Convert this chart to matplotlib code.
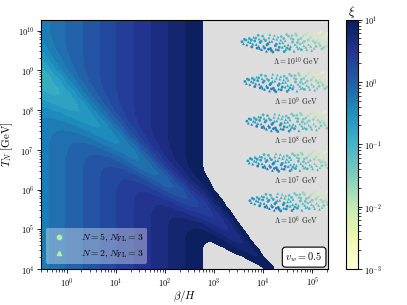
import matplotlib
matplotlib.use('Agg')
import matplotlib.pyplot as plt
import numpy as np
from matplotlib.colors import LogNorm
from matplotlib.lines import Line2D
from matplotlib.ticker import FixedLocator, FuncFormatter, LogLocator, NullFormatter

plt.rcParams['mathtext.fontset'] = 'cm'
plt.rcParams['font.family'] = 'serif'

# xi field on a grid that follows the diagonal ridge:
# column p = log10(beta/H), row q with log10(T_N) = q - p + 8.25
log_beta = np.arange(-0.75, 5.51, 0.25)
ridge_q_inner = np.arange(-1.5, 1.5001, 0.125)
ridge_q = np.concatenate([[-5.0, -3.0, -2.0], ridge_q_inner, [2.0, 3.0, 5.0, 8.0]])

# log10 xi away from the ridge (vertical bands)
log_xi_background = [-0.393, -0.294, -0.194, -0.095, 0.004, 0.104, 0.203,
                     0.302, 0.401, 0.501, 0.600, 0.699, 0.798, 0.898,
                     0.997, 1.096, 1.195, 1.295, 1.394, 1.493, 1.592,
                     1.692, 1.791, 1.890, 1.990, 2.090]

# drop of log10 xi inside the ridge, in 0.01 units (one row per log_beta node)
ridge_dip_centi = [
    [1, 2, 3, 5, 9, 13, 20, 27, 36, 44, 52, 57, 60, 59, 55, 48, 40, 31, 23, 16, 11, 7, 4, 2, 1],
    [1, 1, 3, 5, 8, 13, 19, 27, 36, 45, 54, 59, 62, 61, 56, 49, 40, 31, 23, 15, 10, 6, 3, 2, 1],
    [0, 1, 2, 4, 7, 12, 18, 27, 36, 46, 55, 61, 64, 63, 57, 49, 40, 30, 21, 14, 9, 5, 3, 1, 1],
    [0, 1, 2, 3, 6, 11, 17, 26, 36, 46, 56, 63, 66, 64, 58, 49, 39, 28, 19, 12, 7, 4, 2, 1, 0],
    [0, 1, 1, 3, 5, 9, 16, 24, 35, 46, 57, 64, 67, 65, 59, 49, 37, 26, 17, 10, 6, 3, 1, 1, 0],
    [0, 0, 1, 2, 4, 8, 14, 23, 34, 46, 57, 66, 69, 66, 59, 48, 35, 24, 15, 9, 4, 2, 1, 0, 0],
    [0, 0, 1, 1, 3, 7, 13, 21, 33, 46, 58, 67, 70, 67, 59, 47, 34, 22, 13, 7, 4, 2, 1, 0, 0],
    [0, 0, 0, 1, 3, 6, 11, 20, 32, 45, 59, 68, 72, 68, 59, 45, 32, 20, 11, 6, 3, 1, 0, 0, 0],
    [0, 0, 0, 1, 2, 5, 10, 19, 31, 45, 60, 70, 73, 69, 58, 44, 29, 18, 10, 5, 2, 1, 0, 0, 0],
    [0, 0, 0, 1, 2, 4, 9, 18, 30, 46, 61, 72, 75, 70, 57, 42, 27, 16, 8, 4, 1, 1, 0, 0, 0],
    [0, 0, 0, 1, 2, 4, 9, 17, 30, 45, 61, 72, 75, 69, 56, 40, 25, 14, 7, 3, 1, 0, 0, 0, 0],
    [0, 0, 0, 0, 1, 3, 8, 16, 29, 45, 62, 73, 76, 68, 54, 37, 22, 12, 5, 2, 1, 0, 0, 0, 0],
    [0, 0, 0, 0, 1, 3, 6, 14, 26, 41, 58, 70, 74, 68, 54, 37, 22, 12, 5, 2, 1, 0, 0, 0, 0],
    [0, 0, 0, 0, 1, 2, 5, 11, 22, 37, 54, 67, 72, 67, 54, 37, 22, 11, 5, 2, 1, 0, 0, 0, 0],
    [0, 0, 0, 0, 0, 1, 3, 7, 15, 27, 42, 56, 66, 67, 60, 46, 31, 18, 9, 4, 1, 0, 0, 0, 0],
    [0, 0, 0, 0, 0, 1, 4, 8, 16, 28, 42, 55, 64, 64, 56, 43, 29, 17, 9, 4, 2, 1, 0, 0, 0],
    [0, 0, 0, 0, 1, 2, 5, 10, 19, 31, 45, 57, 63, 62, 53, 40, 26, 15, 8, 3, 1, 0, 0, 0, 0],
    [0, 0, 0, 0, 1, 2, 4, 10, 19, 32, 46, 58, 62, 58, 46, 32, 19, 10, 4, 2, 1, 0, 0, 0, 0],
    [0, 0, 0, 0, 0, 1, 3, 7, 16, 30, 46, 58, 60, 51, 36, 21, 10, 4, 1, 0, 0, 0, 0, 0, 0],
    [0, 0, 0, 0, 0, 0, 1, 5, 13, 28, 47, 59, 57, 42, 23, 10, 3, 1, 0, 0, 0, 0, 0, 0, 0],
    [0, 0, 0, 0, 0, 0, 1, 3, 10, 24, 42, 57, 57, 43, 24, 10, 3, 1, 0, 0, 0, 0, 0, 0, 0],
    [0, 0, 0, 0, 0, 0, 0, 1, 6, 17, 35, 50, 50, 36, 18, 6, 2, 0, 0, 0, 0, 0, 0, 0, 0],
    [0, 0, 0, 0, 0, 0, 0, 1, 5, 15, 31, 44, 44, 31, 16, 6, 1, 0, 0, 0, 0, 0, 0, 0, 0],
    [0, 0, 0, 0, 0, 0, 0, 1, 5, 13, 27, 38, 38, 27, 14, 5, 1, 0, 0, 0, 0, 0, 0, 0, 0],
    [0, 0, 0, 0, 0, 0, 0, 1, 4, 12, 23, 33, 34, 24, 12, 4, 1, 0, 0, 0, 0, 0, 0, 0, 0],
    [0, 0, 0, 0, 0, 0, 0, 1, 3, 10, 20, 29, 29, 21, 10, 4, 1, 0, 0, 0, 0, 0, 0, 0, 0],
]

# scan points, offsets from the head of each cluster (same cloud for each Lambda)
cloud_dbeta = [0.00, 0.03, 0.08, 0.10, 0.15, 0.17, 0.20, 0.24, 0.26, 0.29,
               0.31, 0.35, 0.37, 0.40, 0.42, 0.44, 0.48, 0.50, 0.53, 0.55,
               0.58, 0.61, 0.63, 0.66, 0.68, 0.71, 0.74, 0.77, 0.80, 0.82,
               0.86, 0.88, 0.91, 0.94, 0.97, 1.00, 1.03, 1.06, 1.09, 1.12,
               1.15, 1.18, 1.21, 1.24, 1.27, 1.30, 1.33, 1.36, 1.39, 1.42,
               1.45, 1.48, 1.51, 1.54, 1.57, 1.60, 1.63, 1.66, 1.69, 1.72,
               1.75, 1.78, 1.80, 0.57, 0.46, 0.69, 0.92, 1.14, 1.02, 1.26,
               1.49, 1.70, 0.33, 0.79,
               0.05, 0.13, 0.19, 0.22, 0.28, 0.34, 0.39, 0.45, 0.51, 0.56,
               0.60, 0.64, 0.70, 0.73, 0.76, 0.83, 0.85, 0.89, 0.95, 0.99,
               1.04, 1.08, 1.11, 1.17, 1.20, 1.23, 1.29, 1.32, 1.35, 1.40,
               1.44, 1.47, 1.53, 1.56, 1.59, 1.62, 1.67, 1.71, 1.74, 1.77,
               1.79, 0.36, 0.54, 0.87, 1.13]
cloud_dT = [-0.28, -0.33, -0.24, -0.36, -0.20, -0.30, -0.41, -0.17, -0.26, -0.35,
            -0.44, -0.21, -0.30, -0.48, -0.14, -0.39, -0.25, -0.52, -0.33, -0.18,
            -0.45, -0.27, -0.54, -0.12, -0.38, -0.22, -0.49, -0.31, -0.15, -0.42,
            -0.53, -0.25, -0.10, -0.36, -0.47, -0.19, -0.29, -0.52, -0.08, -0.40,
            -0.23, -0.33, -0.48, -0.13, -0.27, -0.42, -0.05, -0.35, -0.18, -0.50,
            -0.26, -0.09, -0.40, -0.21, -0.32, -0.03, -0.46, -0.14, -0.28, -0.38,
            -0.07, -0.22, -0.44, -0.10, -0.44, -0.47, -0.44, -0.46, -0.13, -0.38,
            -0.31, -0.19, -0.12, -0.24,
            -0.22, -0.28, -0.24, -0.34, -0.19, -0.40, -0.27, -0.20, -0.36, -0.28,
            -0.50, -0.20, -0.34, -0.16, -0.42, -0.30, -0.20, -0.48, -0.14, -0.40,
            -0.22, -0.35, -0.12, -0.44, -0.20, -0.30, -0.10, -0.48, -0.24, -0.40,
            -0.12, -0.45, -0.28, -0.06, -0.38, -0.17, -0.42, -0.11, -0.30, -0.40,
            -0.15, -0.45, -0.47, -0.38, -0.30]
cloud_log_xi = [-0.55, -0.45, -0.70, -0.40, -0.80, -0.55, -0.35, -0.85, -0.65, -0.45,
                -0.30, -0.80, -0.60, -0.30, -1.00, -0.40, -0.75, -0.30, -0.50, -0.95,
                -0.35, -0.75, -0.40, -1.15, -0.50, -0.95, -0.45, -0.75, -1.20, -0.60,
                -0.55, -1.00, -1.40, -0.85, -0.70, -1.30, -1.10, -0.85, -1.65, -1.00,
                -1.40, -1.20, -1.00, -1.75, -1.50, -1.20, -2.00, -1.40, -1.85, -1.20,
                -1.70, -2.20, -1.45, -2.00, -1.75, -2.50, -1.50, -2.30, -2.00, -1.75,
                -2.60, -2.30, -1.80, -1.10, -0.33, -0.40, -0.80, -1.05, -1.50, -1.25,
                -1.60, -2.40, -0.95, -0.90,
                -0.65, -0.55, -0.70, -0.45, -0.85, -0.35, -0.65, -0.85, -0.45, -0.70,
                -0.35, -0.90, -0.60, -1.10, -0.50, -0.85, -1.10, -0.60, -1.35, -0.90,
                -1.30, -1.05, -1.60, -1.10, -1.55, -1.35, -1.90, -1.15, -1.65, -1.30,
                -2.05, -1.35, -1.85, -2.40, -1.60, -2.20, -1.65, -2.50, -2.05, -1.85,
                -2.45, -0.30, -0.35, -0.75, -1.25]

cluster_log_lambda = [10, 9, 8, 7, 6]
cluster_head_log_beta = [3.57, 3.63, 3.67, 3.69, 3.73]
cluster_labels = [r'$\Lambda = 10^{10}\ \mathrm{GeV}$', r'$\Lambda = 10^{9}\ \mathrm{GeV}$',
                  r'$\Lambda = 10^{8}\ \mathrm{GeV}$', r'$\Lambda = 10^{7}\ \mathrm{GeV}$',
                  r'$\Lambda = 10^{6}\ \mathrm{GeV}$']

legend_labels = [r'$N=5, N_{\rm FL}=3$', r'$N=2, N_{\rm FL}=3$']

x_decades = [0, 1, 2, 3, 4, 5]
y_decades = [4, 5, 6, 7, 8, 9, 10]

# field on the sheared grid, the outer q rows carry no dip
dip_full = np.pad(np.array(ridge_dip_centi) / 100.0, ((0, 0), (3, 4)))
P, Q = np.meshgrid(log_beta, ridge_q)
X = 10 ** P
Y = 10 ** (Q - P + 8.25)
Z = np.array(log_xi_background)[None, :] - dip_full.T

norm = LogNorm(1e-3, 1e1)
cmap = plt.get_cmap('YlGnBu')
levels = np.logspace(-3, 1, 30)

fig = plt.figure(figsize=(4.07, 3.05), dpi=100)
ax = fig.add_axes([0.1007, 0.118, 0.7052, 0.818])
cax = fig.add_axes([0.849, 0.118, 0.0295, 0.818])

ax.set_facecolor('#dddddd')
ax.contourf(X, Y, 10 ** Z, levels=levels, norm=norm, cmap=cmap)

dbeta = np.array(cloud_dbeta)
dT = np.array(cloud_dT)
cxi = 10 ** np.array(cloud_log_xi)
for lam, head, lab in zip(cluster_log_lambda, cluster_head_log_beta,
                          cluster_labels):
    xs = 10 ** (head + dbeta)
    ys = 10 ** (lam + dT)
    ax.scatter(xs[::2], ys[::2], c=cxi[::2], cmap=cmap, norm=norm,
               s=4, marker='o', linewidths=0)
    ax.scatter(xs[1::2], ys[1::2], c=cxi[1::2], cmap=cmap, norm=norm,
               s=4, marker='^', linewidths=0)
    ax.text(4.7e4, 10 ** (lam - 0.78), lab, fontsize=5.5,
            ha='center', va='center', color='0.15')

ax.set_xscale('log')
ax.set_yscale('log')
ax.set_xlim(0.3, 2.1e5)
ax.set_ylim(1e4, 1.9e10)

fmt = FuncFormatter(lambda val, pos: rf'$10^{{{int(np.round(np.log10(val)))}}}$')
for axis, decades in ((ax.xaxis, x_decades), (ax.yaxis, y_decades)):
    axis.set_major_locator(FixedLocator(10.0 ** np.array(decades)))
    axis.set_minor_locator(LogLocator(base=10, subs=np.arange(2, 10), numticks=20))
    axis.set_major_formatter(fmt)
    axis.set_minor_formatter(NullFormatter())
ax.tick_params(which='major', labelsize=6, length=3, width=0.6, pad=2)
ax.tick_params(which='minor', length=1.8, width=0.5)

ax.set_xlabel(r'$\beta/H$', fontsize=8, labelpad=-1)
ax.set_ylabel(r'$T_N\ [\mathrm{GeV}]$', fontsize=8, labelpad=2)

handles = [Line2D([], [], marker='o', ls='none', color='#b2f2a0', markersize=3),
           Line2D([], [], marker='^', ls='none', color='#b2f2a0', markersize=3)]
ax.legend(handles, legend_labels, loc='lower left', fontsize=7,
          framealpha=0.35, facecolor='white', edgecolor='none',
          handletextpad=1.2)

ax.text(0.982, 0.02, r'$v_w = 0.5$', transform=ax.transAxes, fontsize=7.5,
        ha='right', va='bottom',
        bbox=dict(boxstyle='round,pad=0.3', fc='white', ec='black', lw=0.8))

sm = plt.cm.ScalarMappable(norm=norm, cmap=cmap)
fig.colorbar(sm, cax=cax)
cax.yaxis.set_major_formatter(fmt)
cax.tick_params(which='major', labelsize=6, length=3, width=0.6, pad=2)
cax.tick_params(which='minor', length=1.8, width=0.5)
cax.set_title(r'$\xi$', fontsize=9, pad=2)

fig.savefig('out.png', dpi=100)
